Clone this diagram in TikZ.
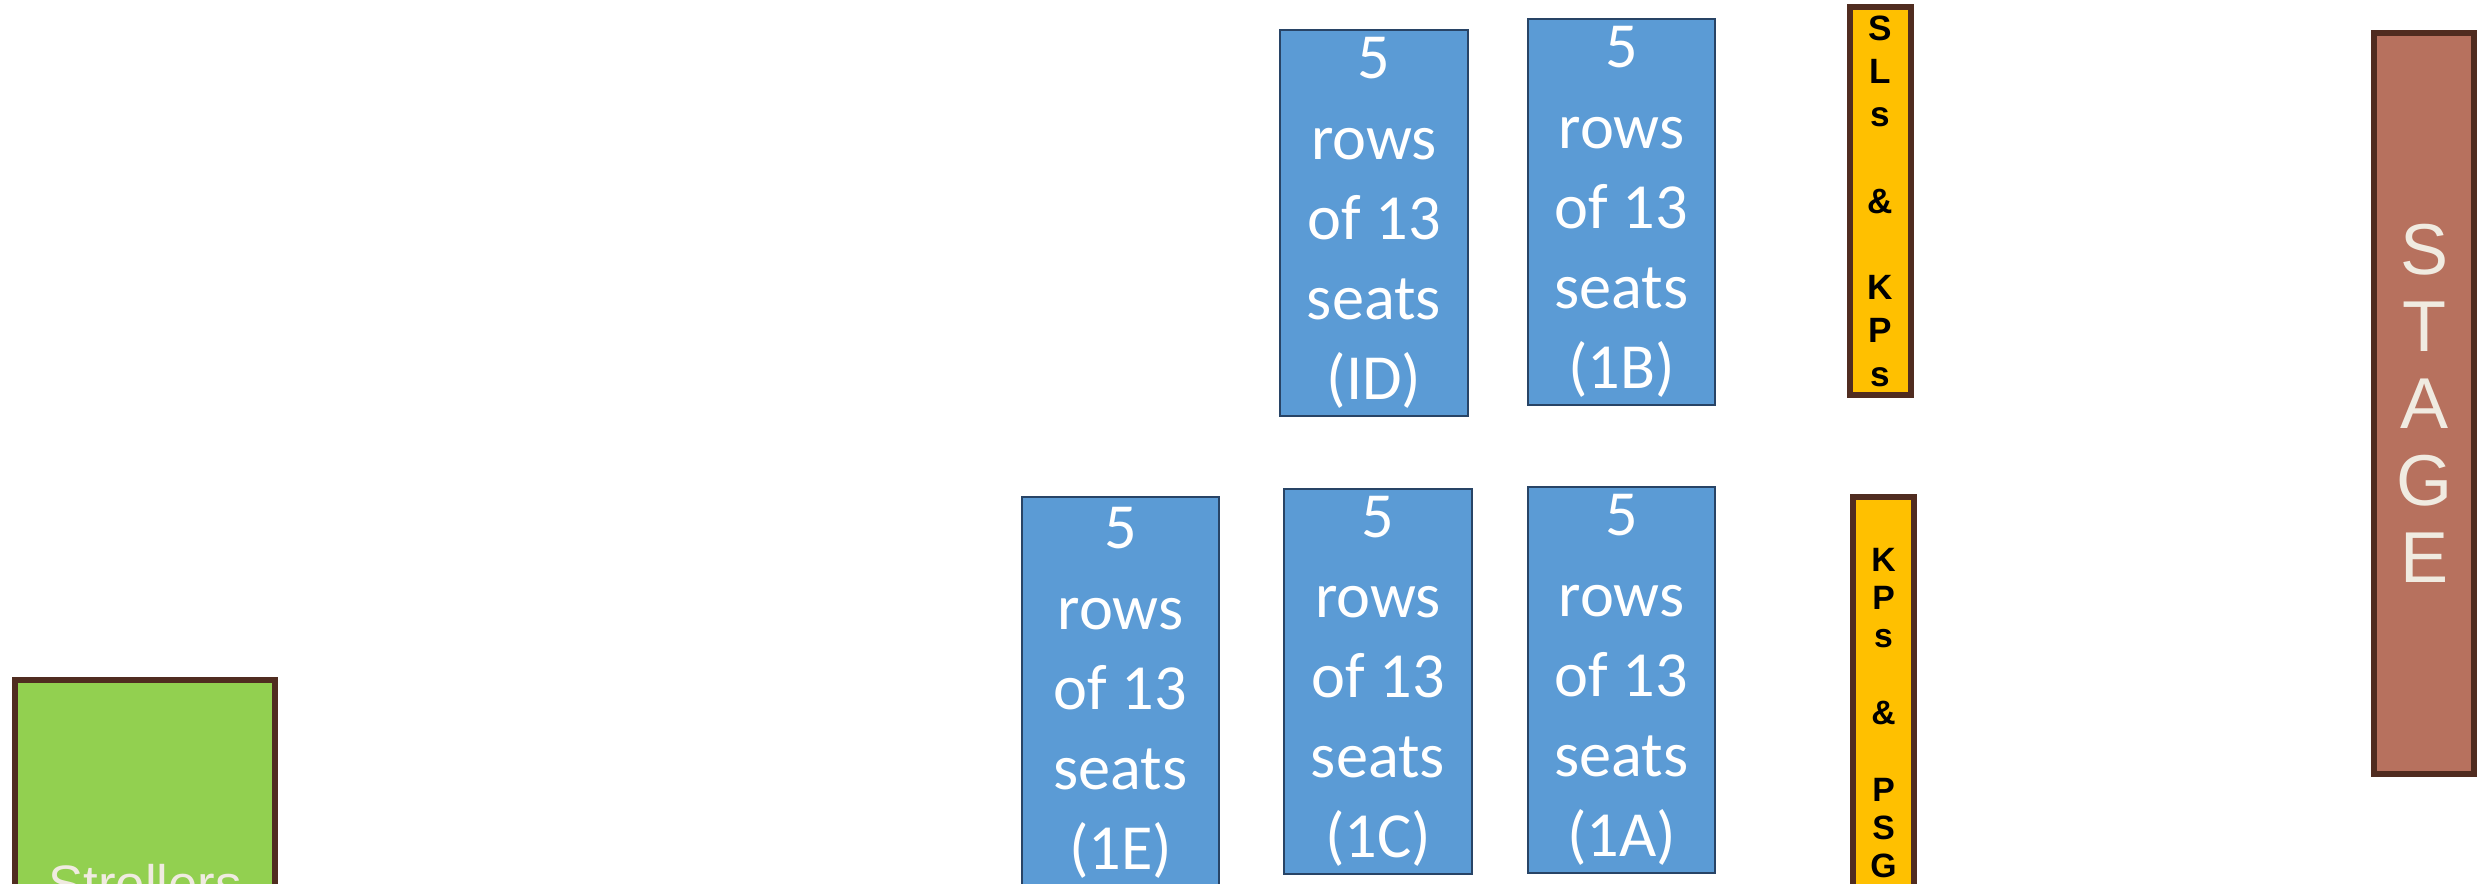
\documentclass[tikz,border=0pt]{standalone}
\usepackage{fontspec}
\setmainfont{Carlito}
\newfontfamily\arialfont{Liberation Sans}
\usepackage{tikz}
\usetikzlibrary{positioning}
\definecolor{seatblue}{RGB}{91,155,213}
\definecolor{seatedge}{RGB}{40,68,102}
\definecolor{badgeyellow}{RGB}{255,192,0}
\definecolor{framebrown}{RGB}{80,44,32}
\definecolor{strollgreen}{RGB}{146,208,80}
\definecolor{stagered}{RGB}{183,113,94}
\definecolor{creamtext}{RGB}{240,235,225}
\tikzset{
  seatblock/.style={draw=seatedge, line width=0.8pt, fill=seatblue, text=white,
    inner sep=0pt, align=center, font=\fontsize{18.3}{22.8}\selectfont},
  badge/.style={draw=framebrown, line width=1.7pt, fill=badgeyellow, text=black,
    inner sep=0pt, minimum width=0.61cm, align=center},
  areabox/.style={draw=framebrown, line width=1.7pt, inner sep=0pt, text=creamtext, align=center}
}

\begin{document}
\begin{tikzpicture}
  \useasboundingbox (0,0) rectangle (24.88,8.83);
  \clip (0,0) rectangle (24.88,8.83);

  % Seating blocks, back row
  \node[seatblock, minimum width=1.88cm, minimum height=3.86cm] (secD) at (13.74,6.60) {5\\rows\\of 13\\seats\\(ID)};
  \node[seatblock, minimum width=1.87cm, minimum height=3.86cm] (secB) at (16.215,6.71) {5\\rows\\of 13\\seats\\(1B)};

  % Seating blocks, front row
  \node[seatblock, minimum width=1.97cm, minimum height=3.92cm] (secE) at (11.205,1.90) {5\\rows\\of 13\\seats\\(1E)};
  \node[seatblock, minimum width=1.88cm, minimum height=3.85cm] (secC) at (13.78,2.015) {5\\rows\\of 13\\seats\\(1C)};
  \node[seatblock, minimum width=1.87cm, minimum height=3.86cm] (secA) at (16.215,2.03) {5\\rows\\of 13\\seats\\(1A)};

  % Reserved strips
  \node[badge, minimum height=3.88cm, font=\arialfont\bfseries\fontsize{10}{12.3}\selectfont] (slsKps) at (18.805,6.82) {S\\L\\s\\~\\\&\\~\\K\\P\\s};
  \node[badge, minimum height=4.32cm, font=\arialfont\bfseries\fontsize{9.6}{10.9}\selectfont] (kpsPsg) at (18.835,1.70) {K\\P\\s\\~\\\&\\~\\P\\S\\G};

  % Stage
  \node[areabox, fill=stagered, minimum width=1.00cm, minimum height=7.41cm, font=\arialfont\fontsize{20.5}{21.9}\selectfont] (stage) at (24.24,4.795) {S\\T\\A\\G\\E};

  % Strollers
  \node[areabox, fill=strollgreen, minimum width=2.60cm, minimum height=4.08cm, font=\arialfont\fontsize{15}{18}\selectfont] (strollers) at (1.45,-0.01) {Strollers};
\end{tikzpicture}
\end{document}
